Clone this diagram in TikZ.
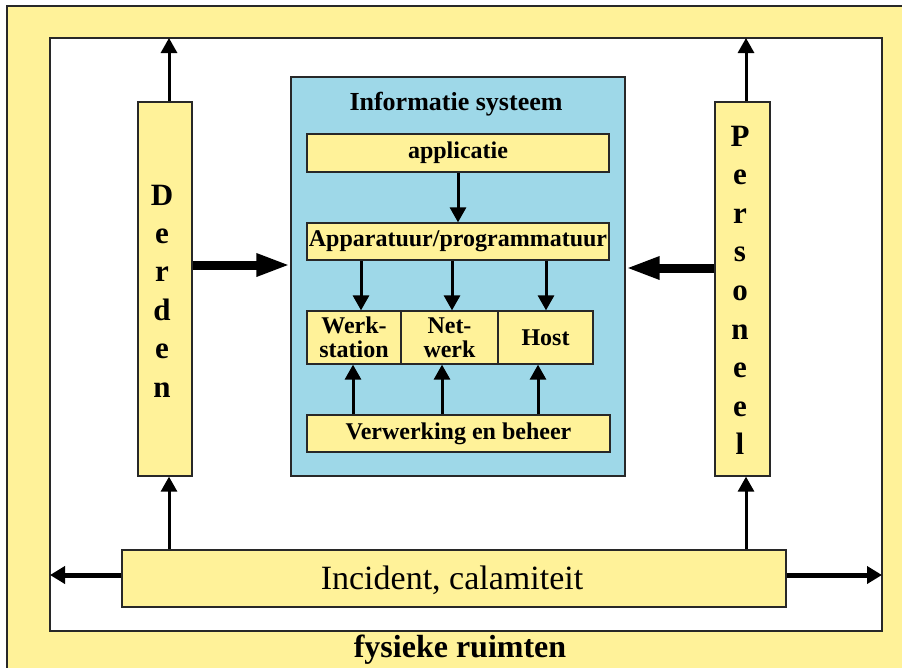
\documentclass[tikz,border=0pt]{standalone}
\usepackage{fontspec}
\setmainfont{Liberation Serif}
\usetikzlibrary{arrows.meta}
\definecolor{paleyellow}{RGB}{255,242,153}
\definecolor{paleblue}{RGB}{158,216,232}
\definecolor{edge}{RGB}{40,40,40}
\begin{document}
\begin{tikzpicture}[x=1pt,y=-1pt,
  box/.style={draw=edge, line width=1.3pt, fill=paleyellow, inner sep=0pt, anchor=center},
  inbox/.style={box, font=\fontsize{24}{24}\selectfont\bfseries, align=center},
  vlet/.style={font=\fontsize{31}{31}\selectfont\bfseries, anchor=base, inner sep=0pt},
  thinarrow/.style={line width=3pt, -{Triangle[length=15pt,width=16pt]}},
  midarrow/.style={line width=5pt, -{Triangle[length=15pt,width=17pt]}},
  heavyarrow/.style={line width=9pt, -{Triangle[length=34pt,width=21pt]}}]
\useasboundingbox (0,0) rectangle (902,667);
\clip (0,0) rectangle (902,667);

% outer area: physical rooms
\node[box, minimum width=940pt, minimum height=700pt] (outer) at (477,356) {};
\node[font=\fontsize{32}{32}\selectfont\bfseries, anchor=base] (rooms) at (460,657) {fysieke ruimten};
\node[box, fill=white, minimum width=832pt, minimum height=593pt] (room) at (466,334.5) {};

% information system
\node[box, fill=paleblue, minimum width=334pt, minimum height=399pt] (is) at (458,276.5) {};
\node[font=\fontsize{26}{26}\selectfont\bfseries, anchor=base] (istitle) at (456,110) {Informatie systeem};
\node[inbox, minimum width=302pt, minimum height=38pt] (app) at (458,153) {applicatie};
\node[inbox, minimum width=302pt, minimum height=37pt] (hw) at (458,241.5) {Apparatuur/programmatuur};
\node[inbox, minimum width=94pt, minimum height=53pt] (ws) at (354,337.5) {Werk-\\station};
\node[inbox, minimum width=97pt, minimum height=53pt] (net) at (449.5,337.5) {Net-\\werk};
\node[inbox, minimum width=95pt, minimum height=53pt] (host) at (545.5,337.5) {Host};
\node[inbox, minimum width=303pt, minimum height=37pt] (ops) at (458.5,433.5) {Verwerking en beheer};

% third parties and staff
\node[box, minimum width=54pt, minimum height=374pt] (derden) at (165,289) {};
\foreach \ch [count=\i] in {D,e,r,d,e,n}
  \node[vlet] (derden-\i) at (162,{205+38.4*(\i-1)}) {\ch};
\node[box, minimum width=55pt, minimum height=374pt] (pers) at (742.5,289) {};
\foreach \ch [count=\i] in {P,e,r,s,o,n,e,e,l}
  \node[vlet] (pers-\i) at (740,{146+38.6*(\i-1)}) {\ch};

% incidents
\node[box, minimum width=664pt, minimum height=57pt] (inc) at (454,578.5) {};
\node[font=\fontsize{34}{34}\selectfont, anchor=base] (inctext) at (452,589) {Incident, calamiteit};

% arrow end points on the room walls
\coordinate (dtop) at (169,38);
\coordinate (ptop) at (746,38);
\coordinate (wleft) at (50,575);
\coordinate (wright) at (882,575);

% arrows inside the information system
\draw[thinarrow] (app.south) -- (hw.north);
\draw[thinarrow] (hw.south -| ws.north) ++(7,0) coordinate (a1) -- (a1 |- ws.north);
\draw[thinarrow] (hw.south -| net.north) ++(2.5,0) coordinate (a2) -- (a2 |- net.north);
\draw[thinarrow] (hw.south -| host.north) ++(0.5,0) coordinate (a3) -- (a3 |- host.north);
\draw[thinarrow] (ops.north -| ws.south) ++(-1,0) coordinate (b1) -- (b1 |- ws.south);
\draw[thinarrow] (ops.north -| net.south) ++(-7.5,0) coordinate (b2) -- (b2 |- net.south);
\draw[thinarrow] (ops.north -| host.south) ++(-7.5,0) coordinate (b3) -- (b3 |- host.south);

% arrows to the walls and between the blocks
\draw[thinarrow] (derden.north -| dtop) -- (dtop);
\draw[thinarrow] (pers.north -| ptop) -- (ptop);
\draw[thinarrow] (inc.north -| dtop) -- (dtop |- derden.south);
\draw[thinarrow] (inc.north -| ptop) -- (ptop |- pers.south);
\draw[midarrow] (inc.west |- wleft) -- (wleft);
\draw[midarrow] (inc.east |- wright) -- (wright);
\draw[heavyarrow] (derden.east |- 0,265) -- (is.west |- 0,265);
\draw[heavyarrow] (pers.west |- 0,268) -- (is.east |- 0,268);
\end{tikzpicture}
\end{document}
